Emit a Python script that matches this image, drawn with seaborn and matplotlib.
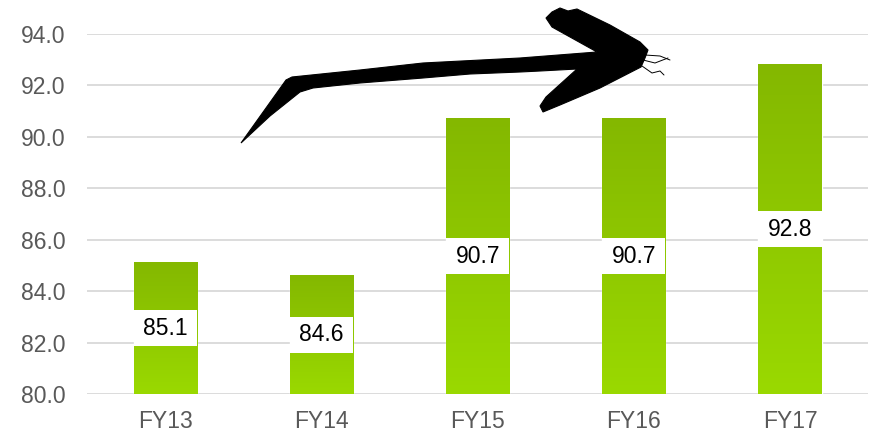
import numpy as np
import pandas as pd
import matplotlib
matplotlib.use("Agg")
import matplotlib.pyplot as plt
from matplotlib.patches import Polygon
from matplotlib.colors import LinearSegmentedColormap
import seaborn as sns

years = ["FY13", "FY14", "FY15", "FY16", "FY17"]
scores = [85.1, 84.6, 90.7, 90.7, 92.8]
y_ticks = [80, 82, 84, 86, 88, 90, 92, 94]

sns.set_theme(style="white")
plt.rcParams["font.family"] = ["Liberation Sans", "DejaVu Sans"]

W, H = 870, 432
fig = plt.figure(figsize=(W / 100, H / 100), dpi=100)
ax = fig.add_axes([87.5 / W, 1 - 394 / H, (868 - 87.5) / W, (394 - 34) / H])

df = pd.DataFrame({"year": years, "score": scores})
bar_w = 0.405
sns.barplot(data=df, x="year", y="score", color="#8fcb00", width=bar_w,
            ax=ax, saturation=1, zorder=2)

base = y_ticks[0]
ax.set_ylim(base, y_ticks[-1])
ax.set_xlim(-0.5, len(years) - 0.5)
ax.set_yticks(y_ticks)
ax.set_yticklabels([f"{v:.1f}" for v in y_ticks])
ax.set_xlabel("")
ax.set_ylabel("")
ax.grid(axis="y", color="#d9d9d9", linewidth=1.3, zorder=0)
ax.set_axisbelow(True)
for s in ax.spines.values():
    s.set_visible(False)
ax.tick_params(axis="y", length=0, pad=16, labelsize=16.5, labelcolor="#595959")
ax.tick_params(axis="x", length=0, pad=11.5, labelsize=16.5, labelcolor="#595959")

# vertical gradient fill for each bar (visible part above the axis floor)
cmap = LinearSegmentedColormap.from_list("grn", ["#9ad900", "#84b800"])
grad = np.linspace(0, 1, 256).reshape(-1, 1)
for patch in ax.patches:
    x0 = patch.get_x()
    w = patch.get_width()
    top = patch.get_y() + patch.get_height()
    im = ax.imshow(grad, cmap=cmap, origin="lower", aspect="auto",
                   extent=[x0, x0 + w, base, top], zorder=2.1)
ax.set_xlim(-0.5, len(years) - 0.5)
ax.set_ylim(base, y_ticks[-1])

# value labels on white boxes at bar mid-height
box_h = 1.4
for i, v in enumerate(scores):
    mid = (base + v) / 2
    ax.bar(i, box_h, bottom=mid - box_h / 2, width=bar_w, color="white",
           zorder=3, linewidth=0)
    ax.text(i, mid, f"{v:.1f}", ha="center", va="center", fontsize=16.5,
            color="black", zorder=4)

# hand-drawn trend arrow (figure pixel coordinates)
pts = [(241, 143), (286, 80), (292, 77), (360, 70), (423, 63), (520, 58),
       (597, 52),
       (552, 27), (546, 18), (552, 12), (560, 8), (568, 11), (577, 9),
       (610, 25), (640, 42), (648, 50), (645, 58), (641, 67), (600, 88),
       (560, 105), (543, 112), (540, 106), (546, 97), (577, 69),
       (540, 71), (520, 72), (470, 74), (423, 78), (360, 83), (313, 88),
       (300, 92), (270, 116)]
fig_pts = [(x / W, 1 - y / H) for x, y in pts]
fig.patches.append(Polygon(fig_pts, closed=True, facecolor="black",
                           edgecolor="black", linewidth=0.8,
                           transform=fig.transFigure, zorder=10))
for seg in ([(643, 60), (655, 63), (668, 58)],
            [(642, 66), (652, 73), (660, 71), (664, 75)],
            [(645, 55), (660, 56), (670, 60)]):
    xs = [p[0] / W for p in seg]
    ys = [1 - p[1] / H for p in seg]
    fig.add_artist(plt.Line2D(xs, ys, color="black", linewidth=0.7,
                              transform=fig.transFigure, zorder=10))

fig.savefig("out.png", dpi=100)
